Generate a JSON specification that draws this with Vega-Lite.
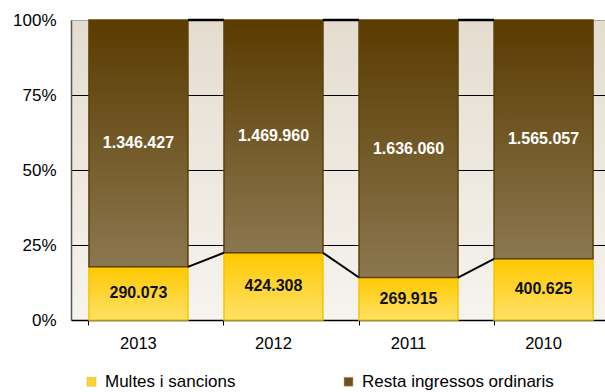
{
  "$schema": "https://vega.github.io/schema/vega-lite/v6.json",
  "width": 540,
  "height": 300,
  "autosize": {"type": "none"},
  "padding": {"left": 71, "top": 20, "right": 0, "bottom": 72},
  "config": {
    "font": "Liberation Sans",
    "locale": {"number": {"decimal": ",", "thousands": ".", "grouping": [3], "currency": ["", " €"]}},
    "view": {
      "stroke": "#a0a0a0",
      "fill": {"gradient": "linear", "x1": 0, "y1": 0, "x2": 0, "y2": 1,
        "stops": [{"offset": 0, "color": "#e5dccf"}, {"offset": 1, "color": "#f6f4ef"}]}
    }
  },
  "data": {
    "values": [
      {"year": "2013", "series": "Multes i sancions", "value": 290073},
      {"year": "2013", "series": "Resta ingressos ordinaris", "value": 1346427},
      {"year": "2012", "series": "Multes i sancions", "value": 424308},
      {"year": "2012", "series": "Resta ingressos ordinaris", "value": 1469960},
      {"year": "2011", "series": "Multes i sancions", "value": 269915},
      {"year": "2011", "series": "Resta ingressos ordinaris", "value": 1636060},
      {"year": "2010", "series": "Multes i sancions", "value": 400625},
      {"year": "2010", "series": "Resta ingressos ordinaris", "value": 1565057}
    ]
  },
  "transform": [
    {"stack": "value", "groupby": ["year"], "sort": [{"field": "series"}], "offset": "normalize", "as": ["y0", "y1"]},
    {"calculate": "(datum.y0 + datum.y1) / 2", "as": "ymid"}
  ],
  "layer": [
    {
      "mark": {"type": "bar", "strokeWidth": 1.5},
      "encoding": {
        "x": {
          "field": "year", "type": "nominal",
          "sort": ["2013", "2012", "2011", "2010"],
          "scale": {"paddingInner": 0.267, "paddingOuter": 0.133},
          "axis": {
            "title": null, "labelAngle": 0, "labelFontSize": 16.5, "labelColor": "#000",
            "labelPadding": 10, "bandPosition": 0, "tickSize": 5, "tickColor": "#000",
            "domainColor": "#000", "domainWidth": 1.5, "grid": false
          }
        },
        "y": {
          "field": "y0", "type": "quantitative",
          "scale": {"domain": [0, 1], "nice": false},
          "axis": {
            "title": null,
            "values": [0, 0.125, 0.25, 0.375, 0.5, 0.625, 0.75, 0.875, 1],
            "format": ".0%",
            "labelExpr": "(datum.value * 1000) % 250 === 0 ? datum.label : ''",
            "labelFontSize": 17, "labelColor": "#000", "labelPadding": 15,
            "ticks": false, "domainColor": "#555", "domainWidth": 1.5,
            "grid": true,
            "gridColor": {"condition": {"test": "datum.value == 0.25 || datum.value == 0.5 || datum.value == 0.75", "value": "#000"}, "value": "#a8a8a8"},
            "gridWidth": 1.2
          }
        },
        "y2": {"field": "y1"},
        "color": {
          "field": "series", "type": "nominal",
          "scale": {
            "domain": ["Multes i sancions", "Resta ingressos ordinaris"],
            "range": ["#ffd22e", "#6e5220"]
          },
          "legend": {
            "title": null, "orient": "none", "legendX": 12, "legendY": 353,
            "direction": "horizontal", "columns": 2, "columnPadding": 104,
            "symbolType": "square", "symbolSize": 81, "symbolStrokeWidth": 0.5, "symbolStrokeColor": "#c8b070",
            "labelFontSize": 17, "labelColor": "#000", "labelOffset": 5, "labelLimit": 300
          }
        }
      }
    },
    {
      "transform": [{"filter": "datum.series === 'Multes i sancions'"}],
      "mark": {"type": "bar", "strokeWidth": 1.5, "stroke": "#f5c500",
        "fill": {"gradient": "linear", "x1": 0, "y1": 0, "x2": 0, "y2": 1,
          "stops": [{"offset": 0, "color": "#ffc800"}, {"offset": 1, "color": "#ffe167"}]}},
      "encoding": {
        "x": {"field": "year", "type": "nominal", "sort": ["2013", "2012", "2011", "2010"]},
        "y": {"field": "y0", "type": "quantitative"},
        "y2": {"field": "y1"}
      }
    },
    {
      "transform": [{"filter": "datum.series === 'Resta ingressos ordinaris'"}],
      "mark": {"type": "bar", "strokeWidth": 1.5, "stroke": "#5c4106",
        "fill": {"gradient": "linear", "x1": 0, "y1": 0, "x2": 0, "y2": 1,
          "stops": [{"offset": 0, "color": "#5a3b00"}, {"offset": 1, "color": "#8b7750"}]}},
      "encoding": {
        "x": {"field": "year", "type": "nominal", "sort": ["2013", "2012", "2011", "2010"]},
        "y": {"field": "y0", "type": "quantitative"},
        "y2": {"field": "y1"}
      }
    },
    {
      "transform": [
        {"filter": "datum.series === 'Multes i sancions'"},
        {"window": [{"op": "lead", "field": "year", "as": "next"}, {"op": "lead", "field": "y1", "as": "ny"}],
          "sort": [{"field": "year", "order": "descending"}]},
        {"filter": "datum.next != null"}
      ],
      "mark": {"type": "rule", "color": "#000", "strokeWidth": 2},
      "encoding": {
        "x": {"field": "year", "type": "nominal", "bandPosition": 1, "sort": ["2013", "2012", "2011", "2010"]},
        "x2": {"field": "next", "bandPosition": 0},
        "y": {"field": "y1", "type": "quantitative"},
        "y2": {"field": "ny"}
      }
    },
    {
      "transform": [
        {"filter": "datum.series === 'Multes i sancions'"},
        {"window": [{"op": "lead", "field": "year", "as": "next"}],
          "sort": [{"field": "year", "order": "descending"}]},
        {"filter": "datum.next != null"}
      ],
      "mark": {"type": "rule", "color": "#000", "strokeWidth": 2.5},
      "encoding": {
        "x": {"field": "year", "type": "nominal", "bandPosition": 1, "sort": ["2013", "2012", "2011", "2010"]},
        "x2": {"field": "next", "bandPosition": 0},
        "y": {"datum": 1, "type": "quantitative"},
        "y2": {"datum": 1}
      }
    },
    {
      "mark": {"type": "text", "fontWeight": "bold", "fontSize": 16},
      "encoding": {
        "x": {"field": "year", "type": "nominal", "sort": ["2013", "2012", "2011", "2010"]},
        "y": {"field": "ymid", "type": "quantitative"},
        "text": {"field": "value", "type": "quantitative", "format": ",d"},
        "color": {
          "condition": {"test": "datum.series === 'Multes i sancions'", "value": "#111111"},
          "value": "#ffffff"
        }
      }
    }
  ]
}
